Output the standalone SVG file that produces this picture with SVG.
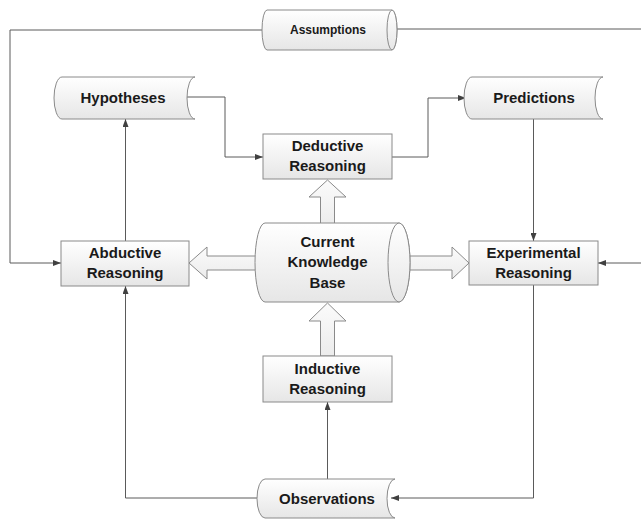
<svg xmlns="http://www.w3.org/2000/svg" width="641" height="521" viewBox="0 0 641 521">
<defs>
<linearGradient id="g" x1="0" y1="0" x2="0" y2="1">
<stop offset="0" stop-color="#ffffff"/>
<stop offset="1" stop-color="#e6e6e6"/>
</linearGradient>
<linearGradient id="ga" x1="0" y1="0" x2="0" y2="1">
<stop offset="0" stop-color="#fbfbfb"/>
<stop offset="1" stop-color="#ececec"/>
</linearGradient>
<marker id="ah" viewBox="0 0 8 6" refX="8" refY="3" markerWidth="8" markerHeight="6" markerUnits="userSpaceOnUse" orient="auto">
<path d="M0 0 L8 3 L0 6 Z" fill="#404040"/>
</marker>
</defs>
<style>
.s{fill:url(#g);stroke:#8a8a8a;stroke-width:1}
.b{fill:url(#ga);stroke:#8a8a8a;stroke-width:1}
.c{fill:none;stroke:#5a5a5a;stroke-width:1}
.t{font-family:"Liberation Sans",Arial,sans-serif;font-weight:bold;font-size:15px;fill:#1a1a1a;text-anchor:middle}
.ts{font-size:12px}
</style>
<rect width="641" height="521" fill="#ffffff"/>
<g id="connectors">
<path class="c" d="M263 30 H10 V263 H61" marker-end="url(#ah)"/>
<path class="c" d="M397 29 H660 V263 H598" marker-end="url(#ah)"/>
<path class="c" d="M187 97 H225 V157 H263" marker-end="url(#ah)"/>
<path class="c" d="M392 157 H428 V98 H466" marker-end="url(#ah)"/>
<path class="c" d="M533.5 119 V241" marker-end="url(#ah)"/>
<path class="c" d="M125.5 241 V119" marker-end="url(#ah)"/>
<path class="c" d="M533.5 285 V498 H391" marker-end="url(#ah)"/>
<path class="c" d="M260 498 H125.5 V286" marker-end="url(#ah)"/>
<path class="c" d="M327.5 479 V402" marker-end="url(#ah)"/>
</g>
<g id="block-arrows">
<polygon class="b" points="327.5,180 346,197 334.5,197 334.5,226 320.5,226 320.5,197 309,197"/>
<polygon class="b" points="189,263 207,247 207,256 262,256 262,270 207,270 207,279"/>
<polygon class="b" points="469,263 452,247 452,256 402,256 402,270 452,270 452,279"/>
<polygon class="b" points="327.5,303 346,321 334.5,321 334.5,356 320.5,356 320.5,321 309,321"/>
</g>
<g id="assumptions">
<path class="s" d="M267 10 H392 A5 20 0 0 1 392 50 H267 A5 20 0 0 1 267 10 Z"/>
<ellipse class="s" cx="392" cy="30" rx="5" ry="20"/>
<text class="t ts" x="328" y="34">Assumptions</text>
</g>
<g id="hypotheses">
<path class="s" d="M62 77 H195 A8 21 0 0 0 195 119 H62 A8 21 0 0 1 62 77 Z"/>
<text class="t" x="123" y="103">Hypotheses</text>
</g>
<g id="predictions">
<path class="s" d="M472 77 H603 A8 21 0 0 0 603 119 H472 A8 21 0 0 1 472 77 Z"/>
<text class="t" x="534" y="103">Predictions</text>
</g>
<g id="deductive">
<rect class="s" x="263" y="134" width="129" height="45"/>
<text class="t" x="327.5" y="151">Deductive</text>
<text class="t" x="327.5" y="171">Reasoning</text>
</g>
<g id="abductive">
<rect class="s" x="61" y="241" width="128" height="45"/>
<text class="t" x="125" y="258">Abductive</text>
<text class="t" x="125" y="278">Reasoning</text>
</g>
<g id="experimental">
<rect class="s" x="469" y="241" width="129" height="44"/>
<text class="t" x="533.5" y="258">Experimental</text>
<text class="t" x="533.5" y="278">Reasoning</text>
</g>
<g id="knowledge-base">
<path class="s" d="M265 223 H399 A11 39.5 0 0 1 399 302 H265 A10 39.5 0 0 1 265 223 Z"/>
<ellipse class="s" cx="399" cy="262.5" rx="11" ry="39.5"/>
<text class="t" x="327.5" y="247">Current</text>
<text class="t" x="327.5" y="267">Knowledge</text>
<text class="t" x="327.5" y="288">Base</text>
</g>
<g id="inductive">
<rect class="s" x="263" y="356" width="129" height="46"/>
<text class="t" x="327.5" y="374">Inductive</text>
<text class="t" x="327.5" y="394">Reasoning</text>
</g>
<g id="observations">
<path class="s" d="M265 479 H395 A8 19.5 0 0 0 395 518 H265 A8 19.5 0 0 1 265 479 Z"/>
<text class="t" x="327" y="504">Observations</text>
</g>
</svg>
